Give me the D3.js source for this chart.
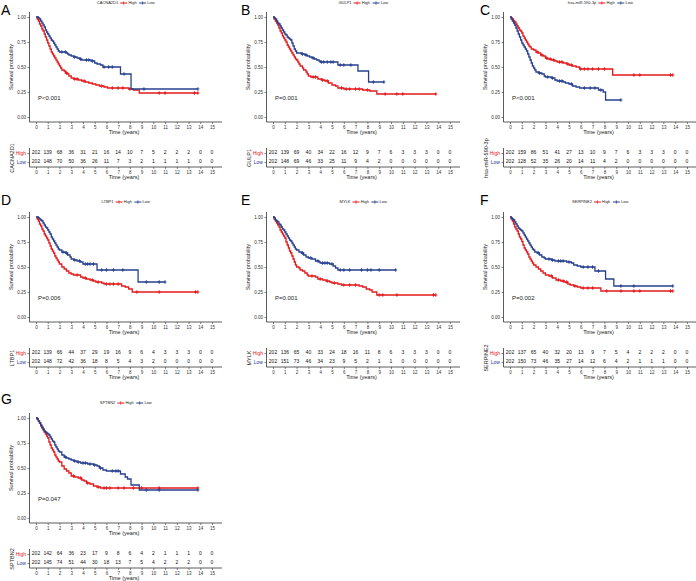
<!DOCTYPE html>
<html><head><meta charset="utf-8">
<script src="https://cdn.jsdelivr.net/npm/d3@7"></script>
<style>body{margin:0;background:#fff;} svg{display:block;font-family:"Liberation Sans",Arial,Helvetica,sans-serif;}</style>
</head><body><svg id="chart" width="696" height="581"></svg>
<script>
const panelLetters = ["A","B","C","D","E","F","G"];
const genes = ["CACNA2D1","GULP1","hsa-miR-590-3p","LTBP1","MYLK","SERPINE2","SPTBN2"];
const pValues = ["P<0.001","P=0.001","P<0.001","P=0.006","P=0.001","P=0.002","P=0.047"];
const groups = ["High","Low"];
const timeTicks = [0,1,2,3,4,5,6,7,8,9,10,11,12,13,14,15];
const survTicks = [0,0.25,0.5,0.75,1];

// Kaplan-Meier steps [time, survival]
const stepsHighA = [[0,1],[0.1,0.98],[0.2,0.96],[0.3,0.93],[0.4,0.91],[0.5,0.88],[0.6,0.86],[0.7,0.83],[0.8,0.8],[0.9,0.77],[1.0,0.74],[1.1,0.71],[1.2,0.68],[1.3,0.65],[1.4,0.63],[1.5,0.61],[1.6,0.59],[1.7,0.57],[1.8,0.55],[1.9,0.53],[2.0,0.51],[2.1,0.49],[2.2,0.47],[2.4,0.46],[2.5,0.44],[2.7,0.43],[2.8,0.41],[3.0,0.39],[3.2,0.38],[3.6,0.37],[3.9,0.36],[4.2,0.35],[4.5,0.34],[4.8,0.33],[5.1,0.32],[5.4,0.31],[5.8,0.3],[6.1,0.29],[7.9,0.28],[8.3,0.27],[8.8,0.24],[13.8,0.24]];
const stepsLowA = [[0,1],[0.2,0.99],[0.3,0.98],[0.4,0.96],[0.5,0.94],[0.6,0.92],[0.7,0.9],[0.8,0.87],[0.9,0.85],[1.0,0.83],[1.1,0.81],[1.2,0.79],[1.3,0.77],[1.4,0.76],[1.5,0.74],[1.6,0.72],[1.7,0.7],[1.8,0.68],[1.9,0.66],[2.0,0.65],[2.6,0.64],[2.7,0.63],[2.8,0.62],[3.0,0.61],[3.2,0.6],[3.5,0.59],[3.7,0.58],[3.9,0.57],[4.7,0.56],[5.0,0.54],[5.2,0.53],[5.5,0.52],[5.7,0.5],[7.2,0.43],[8.1,0.28],[13.8,0.28]];
const censorHighA = [2.6,3.3,3.5,4.1,5.6,6.5,7.0,7.4,8.0,10.5,11.0,13.5,13.8];
const censorLowA = [2.2,2.5,3.3,3.8,4.3,4.5,4.8,5.8,6.2,6.5,7.5,9.2,13.8];
const riskHighA = [202,139,68,36,31,21,16,14,10,7,5,2,2,2,0,0];
const riskLowA = [202,148,70,50,36,26,11,7,3,2,1,1,1,1,0,0];

const stepsHighB = [[0,1],[0.1,0.98],[0.2,0.96],[0.3,0.94],[0.4,0.92],[0.5,0.89],[0.6,0.86],[0.7,0.84],[0.8,0.81],[0.9,0.79],[1.0,0.77],[1.1,0.75],[1.2,0.72],[1.3,0.7],[1.4,0.68],[1.5,0.66],[1.6,0.64],[1.7,0.62],[1.8,0.6],[1.9,0.58],[2.0,0.57],[2.1,0.55],[2.2,0.53],[2.3,0.51],[2.5,0.49],[2.6,0.47],[2.8,0.45],[2.9,0.43],[3.0,0.41],[3.2,0.4],[3.8,0.38],[4.1,0.37],[4.4,0.36],[4.7,0.34],[5.0,0.32],[5.3,0.31],[5.5,0.29],[6.0,0.28],[7.6,0.27],[8.2,0.26],[8.8,0.23],[13.8,0.23]];
const stepsLowB = [[0,1],[0.1,0.99],[0.2,0.98],[0.3,0.96],[0.4,0.94],[0.5,0.93],[0.6,0.91],[0.7,0.89],[0.8,0.87],[0.9,0.85],[1.0,0.83],[1.1,0.82],[1.2,0.8],[1.3,0.79],[1.4,0.78],[1.5,0.77],[1.6,0.74],[1.7,0.71],[1.8,0.68],[1.9,0.66],[2.0,0.64],[2.4,0.63],[2.7,0.62],[2.9,0.61],[3.1,0.6],[3.3,0.59],[3.5,0.58],[3.7,0.57],[3.9,0.56],[4.0,0.55],[5.5,0.52],[7.2,0.46],[8.1,0.35],[9.4,0.35]];
const censorHighB = [3.4,3.6,4.2,4.6,5.8,6.2,6.5,7.0,7.3,8.0,9.5,10.5,11.0,13.8];
const censorLowB = [2.5,2.8,3.4,4.1,4.3,4.6,4.9,5.1,5.7,6.0,6.6,8.5,9.4];
const riskHighB = [202,139,69,40,34,22,16,12,9,7,6,3,3,3,0,0];
const riskLowB = [202,148,69,46,33,25,11,9,4,2,0,0,0,0,0,0];

const stepsHighC = [[0,1],[0.1,0.99],[0.2,0.98],[0.3,0.96],[0.4,0.95],[0.5,0.93],[0.6,0.91],[0.7,0.89],[0.8,0.87],[0.9,0.86],[1.0,0.84],[1.1,0.81],[1.2,0.79],[1.3,0.77],[1.4,0.75],[1.5,0.73],[1.6,0.71],[1.7,0.7],[1.8,0.68],[2.0,0.67],[2.2,0.65],[2.4,0.64],[2.6,0.62],[2.8,0.61],[3.0,0.59],[3.2,0.58],[3.5,0.57],[3.8,0.56],[4.0,0.55],[4.5,0.54],[4.8,0.53],[5.0,0.52],[5.3,0.51],[5.6,0.5],[5.9,0.48],[8.7,0.42],[13.8,0.42]];
const stepsLowC = [[0,1],[0.1,0.98],[0.2,0.96],[0.3,0.94],[0.4,0.92],[0.5,0.89],[0.6,0.86],[0.7,0.83],[0.8,0.8],[0.9,0.77],[1.0,0.74],[1.1,0.72],[1.2,0.7],[1.3,0.68],[1.4,0.66],[1.5,0.63],[1.6,0.6],[1.7,0.57],[1.8,0.54],[1.9,0.51],[2.0,0.49],[2.1,0.47],[2.2,0.45],[2.4,0.44],[2.7,0.43],[2.9,0.41],[3.0,0.4],[3.5,0.39],[3.8,0.37],[4.0,0.36],[4.5,0.35],[4.7,0.34],[5.0,0.33],[5.3,0.31],[5.6,0.3],[5.9,0.29],[7.5,0.27],[7.9,0.25],[8.1,0.17],[9.4,0.17]];
const censorHighC = [2.3,2.7,3.1,3.4,3.7,4.2,4.4,4.9,5.2,6.0,6.3,6.6,7.0,7.5,8.0,10.5,11.0,13.6,13.8];
const censorLowC = [2.5,3.2,3.6,4.2,4.4,5.2,6.3,6.8,7.2,7.7,9.4];
const riskHighC = [202,159,86,51,41,27,13,10,9,7,6,3,3,3,0,0];
const riskLowC = [202,128,52,35,26,20,14,11,4,2,0,0,0,0,0,0];

const stepsHighD = [[0,1],[0.1,0.98],[0.2,0.96],[0.3,0.93],[0.4,0.91],[0.5,0.88],[0.6,0.86],[0.7,0.83],[0.8,0.81],[0.9,0.79],[1.0,0.77],[1.1,0.74],[1.2,0.71],[1.3,0.68],[1.4,0.66],[1.5,0.64],[1.6,0.61],[1.7,0.59],[1.8,0.57],[1.9,0.55],[2.0,0.53],[2.2,0.5],[2.4,0.48],[2.6,0.46],[2.8,0.44],[3.0,0.43],[3.2,0.42],[3.8,0.4],[4.0,0.39],[4.3,0.38],[4.6,0.37],[4.9,0.36],[5.1,0.35],[5.6,0.34],[5.8,0.33],[7.3,0.31],[7.6,0.3],[7.9,0.28],[8.2,0.25],[13.8,0.25]];
const stepsLowD = [[0,1],[0.2,0.99],[0.3,0.98],[0.4,0.97],[0.5,0.96],[0.6,0.94],[0.7,0.92],[0.8,0.9],[0.9,0.89],[1.0,0.87],[1.1,0.85],[1.2,0.83],[1.3,0.8],[1.4,0.78],[1.5,0.76],[1.6,0.74],[1.7,0.72],[1.8,0.7],[1.9,0.68],[2.0,0.67],[2.2,0.65],[2.5,0.64],[2.7,0.62],[2.9,0.6],[3.0,0.58],[3.2,0.57],[3.5,0.56],[3.8,0.55],[4.0,0.53],[5.2,0.47],[8.7,0.35],[11.0,0.35]];
const censorHighD = [3.5,4.2,4.8,5.3,6.0,6.3,6.6,7.0,8.6,10.5,13.6,13.8];
const censorLowD = [2.3,2.6,3.3,3.7,4.2,4.4,4.6,4.9,5.6,6.0,6.6,7.4,9.4,10.5,11.0];
const riskHighD = [202,139,66,44,37,29,19,16,9,6,4,3,3,3,0,0];
const riskLowD = [202,148,72,42,36,18,8,5,4,3,2,0,0,0,0,0];

const stepsHighE = [[0,1],[0.1,0.98],[0.2,0.96],[0.3,0.94],[0.4,0.92],[0.5,0.9],[0.6,0.87],[0.7,0.85],[0.8,0.83],[0.9,0.81],[1.0,0.79],[1.1,0.75],[1.2,0.72],[1.3,0.69],[1.4,0.66],[1.5,0.64],[1.6,0.61],[1.7,0.58],[1.8,0.55],[1.9,0.52],[2.0,0.5],[2.2,0.49],[2.3,0.47],[2.5,0.46],[2.7,0.44],[2.9,0.42],[3.0,0.41],[3.6,0.4],[3.8,0.38],[4.2,0.37],[4.5,0.36],[4.8,0.35],[5.0,0.34],[5.5,0.33],[5.8,0.32],[7.3,0.31],[7.6,0.3],[7.9,0.28],[8.2,0.27],[8.4,0.25],[8.8,0.22],[13.8,0.22]];
const stepsLowE = [[0,1],[0.1,0.99],[0.2,0.97],[0.3,0.96],[0.4,0.95],[0.5,0.93],[0.6,0.92],[0.7,0.9],[0.8,0.88],[0.9,0.87],[1.0,0.85],[1.1,0.83],[1.2,0.81],[1.3,0.79],[1.4,0.77],[1.5,0.76],[1.6,0.74],[1.7,0.72],[1.8,0.7],[1.9,0.68],[2.0,0.67],[2.2,0.65],[2.4,0.64],[2.6,0.62],[2.8,0.6],[3.0,0.59],[3.3,0.58],[3.6,0.56],[3.9,0.55],[4.0,0.54],[4.8,0.53],[5.1,0.51],[5.3,0.49],[5.5,0.47],[10.4,0.47]];
const censorHighE = [3.3,4.0,4.6,5.2,6.0,6.5,7.0,9.0,9.3,10.5,13.6,13.8];
const censorLowE = [2.5,3.2,3.8,4.2,4.4,4.6,5.0,5.7,6.0,6.5,7.5,8.0,8.3,9.0,10.4];
const riskHighE = [202,136,65,40,33,24,18,16,11,8,6,3,3,3,0,0];
const riskLowE = [202,151,73,46,34,23,9,5,2,1,1,0,0,0,0,0];

const stepsHighF = [[0,1],[0.1,0.98],[0.2,0.96],[0.3,0.93],[0.4,0.9],[0.5,0.88],[0.6,0.86],[0.7,0.83],[0.8,0.8],[0.9,0.78],[1.0,0.755],[1.1,0.72],[1.2,0.69],[1.3,0.67],[1.4,0.65],[1.5,0.63],[1.6,0.6],[1.7,0.58],[1.8,0.56],[1.9,0.54],[2.0,0.52],[2.2,0.5],[2.4,0.48],[2.6,0.46],[2.8,0.44],[3.0,0.42],[3.3,0.41],[3.6,0.39],[3.9,0.37],[4.3,0.36],[4.6,0.35],[4.9,0.33],[5.1,0.32],[5.4,0.31],[5.7,0.3],[6.0,0.29],[7.7,0.26],[13.8,0.26]];
const stepsLowF = [[0,1],[0.1,0.99],[0.2,0.98],[0.3,0.97],[0.4,0.95],[0.5,0.93],[0.6,0.91],[0.7,0.89],[0.8,0.88],[0.9,0.87],[1.0,0.86],[1.1,0.84],[1.2,0.82],[1.3,0.8],[1.4,0.78],[1.5,0.76],[1.6,0.74],[1.7,0.72],[1.8,0.7],[1.9,0.68],[2.0,0.67],[2.1,0.65],[2.3,0.64],[2.5,0.62],[2.7,0.6],[2.9,0.59],[3.0,0.58],[3.5,0.57],[3.8,0.56],[4.8,0.55],[5.2,0.54],[5.4,0.52],[5.7,0.51],[6.0,0.5],[7.2,0.46],[8.1,0.38],[8.8,0.31],[13.8,0.31]];
const censorHighF = [3.5,4.1,4.5,4.8,5.5,6.2,6.6,7.0,8.2,9.4,10.5,11.0,13.6,13.8];
const censorLowF = [2.4,3.3,3.6,4.1,4.3,4.5,5.0,6.2,6.6,7.0,7.5,9.4,10.5,13.8];
const riskHighF = [202,137,65,40,32,20,13,9,7,5,4,2,2,2,0,0];
const riskLowF = [202,150,73,46,35,27,14,12,6,4,2,1,1,1,0,0];

const stepsHighG = [[0,1],[0.1,0.99],[0.2,0.97],[0.3,0.95],[0.4,0.92],[0.5,0.9],[0.6,0.88],[0.7,0.86],[0.8,0.84],[0.9,0.82],[1.0,0.8],[1.1,0.76],[1.2,0.73],[1.3,0.7],[1.4,0.68],[1.5,0.66],[1.6,0.63],[1.7,0.61],[1.8,0.59],[1.9,0.57],[2.0,0.56],[2.2,0.52],[2.4,0.49],[2.6,0.47],[2.8,0.45],[3.0,0.42],[3.3,0.41],[3.6,0.4],[3.9,0.38],[4.1,0.37],[4.3,0.35],[4.6,0.34],[4.9,0.32],[5.2,0.31],[5.5,0.3],[13.8,0.3]];
const stepsLowG = [[0,1],[0.1,0.99],[0.2,0.97],[0.3,0.95],[0.4,0.93],[0.5,0.91],[0.6,0.89],[0.7,0.87],[0.8,0.86],[0.9,0.85],[1.0,0.84],[1.1,0.83],[1.2,0.81],[1.3,0.79],[1.4,0.77],[1.5,0.76],[1.6,0.73],[1.7,0.71],[1.8,0.69],[1.9,0.67],[2.0,0.66],[2.2,0.63],[2.4,0.61],[2.6,0.6],[2.8,0.59],[3.0,0.58],[3.2,0.57],[3.5,0.56],[3.8,0.55],[4.4,0.54],[4.9,0.53],[5.2,0.52],[5.4,0.5],[5.7,0.48],[6.0,0.47],[7.2,0.44],[7.6,0.41],[7.8,0.39],[8.1,0.33],[8.8,0.28],[13.8,0.28]];
const censorHighG = [3.2,3.8,4.4,5.3,5.8,6.0,6.3,7.0,7.5,8.3,9.0,10.5,13.8];
const censorLowG = [2.5,3.3,3.6,4.0,4.2,4.6,5.0,5.5,6.5,6.8,7.0,9.4,10.5,13.8];
const riskHighG = [202,142,64,36,23,17,9,8,6,4,2,1,1,1,0,0];
const riskLowG = [202,145,74,51,44,30,18,13,7,5,4,2,2,2,0,0];

const stepsHigh = [stepsHighA,stepsHighB,stepsHighC,stepsHighD,stepsHighE,stepsHighF,stepsHighG];
const stepsLow = [stepsLowA,stepsLowB,stepsLowC,stepsLowD,stepsLowE,stepsLowF,stepsLowG];
const censorHigh = [censorHighA,censorHighB,censorHighC,censorHighD,censorHighE,censorHighF,censorHighG];
const censorLow = [censorLowA,censorLowB,censorLowC,censorLowD,censorLowE,censorLowF,censorLowG];
const riskHigh = [riskHighA,riskHighB,riskHighC,riskHighD,riskHighE,riskHighF,riskHighG];
const riskLow = [riskLowA,riskLowB,riskLowC,riskLowD,riskLowE,riskLowF,riskLowG];

// layout
const colX0 = [36, 273, 510], colX15 = [212, 450, 687];
const rowTop = [17, 217, 418];
const letterX = [1, 241, 480], letterY = [15, 205, 404];
const legendY = [3, 202, 403];
const RED = "#E41A1C", BLUE = "#26408F", AX = "#333";

const svg = d3.select("#chart");
svg.append("rect").attr("width",696).attr("height",581).attr("fill","#fff");

function survAt(steps, t){ let s = steps[0][1]; for (const p of steps){ if (p[0] <= t) s = p[1]; } return s; }

genes.forEach((gene, i) => {
  const col = i % 3, row = Math.floor(i / 3);
  const top = rowTop[row];
  const x = d3.scaleLinear().domain([0,15]).range([colX0[col], colX15[col]]);
  const y = d3.scaleLinear().domain([0,1]).range([top+100, top]);
  const axX = colX0[col] - 6.5, axR = colX15[col] + 10;
  const g = svg.append("g");

  // panel letter
  g.append("text").attr("x", letterX[col]).attr("y", letterY[row]).attr("font-size", 14).attr("fill","#000").text(panelLetters[i]);

  // legend
  const lg = g.append("g").attr("font-size", 4);
  const items = [];
  const t1 = lg.append("text").attr("y", legendY[row]).attr("dominant-baseline","middle").attr("fill","#222").text(gene);
  items.push({el:t1, w:t1.node().getComputedTextLength(), gap:2});
  const cols = [RED, BLUE];
  groups.forEach((gr, k) => {
    const sym = lg.append("g");
    sym.append("line").attr("x1",0).attr("x2",7).attr("y1",legendY[row]).attr("y2",legendY[row]).attr("stroke",cols[k]).attr("stroke-width",1);
    sym.append("line").attr("x1",3.5).attr("x2",3.5).attr("y1",legendY[row]-1.6).attr("y2",legendY[row]+1.6).attr("stroke",cols[k]).attr("stroke-width",0.8);
    items.push({el:sym, w:7, gap:1.2, isSym:true});
    const tt = lg.append("text").attr("y", legendY[row]).attr("dominant-baseline","middle").attr("fill","#222").text(gr);
    items.push({el:tt, w:tt.node().getComputedTextLength(), gap:2.5});
  });
  const total = d3.sum(items, d => d.w + d.gap) - items[items.length-1].gap;
  let cx = (axX + axR)/2 - total/2;
  items.forEach(it => {
    if (it.isSym) it.el.attr("transform", `translate(${cx},0)`); else it.el.attr("x", cx);
    cx += it.w + it.gap;
  });

  // axes of survival plot
  g.append("line").attr("x1",axX).attr("x2",axX).attr("y1",top-5).attr("y2",top+105).attr("stroke",AX).attr("stroke-width",0.8);
  g.append("line").attr("x1",axX).attr("x2",axR).attr("y1",top+105).attr("y2",top+105).attr("stroke",AX).attr("stroke-width",0.8);
  const ya = g.append("g").attr("transform",`translate(${axX},0)`)
    .call(d3.axisLeft(y).tickValues(survTicks).tickFormat(d3.format(".2f")).tickSize(2).tickPadding(1.5));
  ya.select(".domain").remove();
  ya.selectAll("text").attr("font-size",4.5).attr("fill","#333").attr("font-family",null);
  ya.selectAll("line").attr("stroke",AX).attr("stroke-width",0.6);
  const xa = g.append("g").attr("transform",`translate(0,${top+105})`)
    .call(d3.axisBottom(x).tickValues(timeTicks).tickFormat(d3.format("d")).tickSize(2).tickPadding(1.5));
  xa.select(".domain").remove();
  xa.selectAll("text").attr("font-size",4.5).attr("fill","#333").attr("font-family",null);
  xa.selectAll("line").attr("stroke",AX).attr("stroke-width",0.6);

  g.append("text").attr("transform",`translate(${axX-17.5},${top+50}) rotate(-90)`).attr("text-anchor","middle")
    .attr("dominant-baseline","middle").attr("font-size",5.5).attr("fill","#222").text("Survival probability");
  g.append("text").attr("x",x(7.5)).attr("y",top+115.5).attr("text-anchor","middle").attr("dominant-baseline","middle")
    .attr("font-size",5.5).attr("fill","#222").text("Time (years)");

  // curves
  const line = d3.line().x(d => x(d[0])).y(d => y(d[1])).curve(d3.curveStepAfter);
  [[stepsHigh[i], censorHigh[i], RED],[stepsLow[i], censorLow[i], BLUE]].forEach(([st, cen, c]) => {
    g.append("path").attr("d", line(st)).attr("fill","none").attr("stroke",c).attr("stroke-width",1.3);
    cen.forEach(t => {
      const px = x(t), py = y(survAt(st, t));
      g.append("line").attr("x1",px).attr("x2",px).attr("y1",py-1.8).attr("y2",py+1.8).attr("stroke",c).attr("stroke-width",0.9);
      g.append("line").attr("x1",px-1.5).attr("x2",px+1.5).attr("y1",py).attr("y2",py).attr("stroke",c).attr("stroke-width",0.9);
    });
  });

  // p-value
  g.append("text").attr("x", x(0)+2).attr("y", y(0.19)).attr("dominant-baseline","middle")
    .attr("font-size",6).attr("fill","#222").text(pValues[i]);

  // risk table
  const yr = d3.scalePoint().domain(groups).range([top+136, top+145]);
  g.append("line").attr("x1",axX).attr("x2",axX).attr("y1",top+131).attr("y2",top+150).attr("stroke",AX).attr("stroke-width",0.8);
  g.append("line").attr("x1",axX).attr("x2",axR).attr("y1",top+150).attr("y2",top+150).attr("stroke",AX).attr("stroke-width",0.8);
  const ra = g.append("g").attr("transform",`translate(${axX},0)`).call(d3.axisLeft(yr).tickSize(2).tickPadding(1.5));
  ra.select(".domain").remove();
  ra.selectAll("text").attr("font-size",5).attr("font-family",null).attr("fill", d => d === "High" ? RED : BLUE);
  ra.selectAll("line").attr("stroke",AX).attr("stroke-width",0.6);
  const rx = g.append("g").attr("transform",`translate(0,${top+150})`)
    .call(d3.axisBottom(x).tickValues(timeTicks).tickFormat(d3.format("d")).tickSize(2).tickPadding(1.5));
  rx.select(".domain").remove();
  rx.selectAll("text").attr("font-size",4.5).attr("fill","#333").attr("font-family",null);
  rx.selectAll("line").attr("stroke",AX).attr("stroke-width",0.6);
  g.append("text").attr("x",x(7.5)).attr("y",top+161).attr("text-anchor","middle").attr("dominant-baseline","middle")
    .attr("font-size",5.5).attr("fill","#222").text("Time (years)");
  g.append("text").attr("transform",`translate(${axX-17},${top+141}) rotate(-90)`).attr("text-anchor","middle")
    .attr("dominant-baseline","middle").attr("font-size",5.5).attr("fill","#222").text(gene);
  [[riskHigh[i],"High"],[riskLow[i],"Low"]].forEach(([vals, gr]) => {
    g.selectAll(null).data(vals).enter().append("text")
      .attr("x",(d,k) => x(timeTicks[k])).attr("y", yr(gr)).attr("text-anchor","middle").attr("dominant-baseline","middle")
      .attr("font-size",5).attr("fill","#111").text(d => d);
  });
});
</script></body></html>
